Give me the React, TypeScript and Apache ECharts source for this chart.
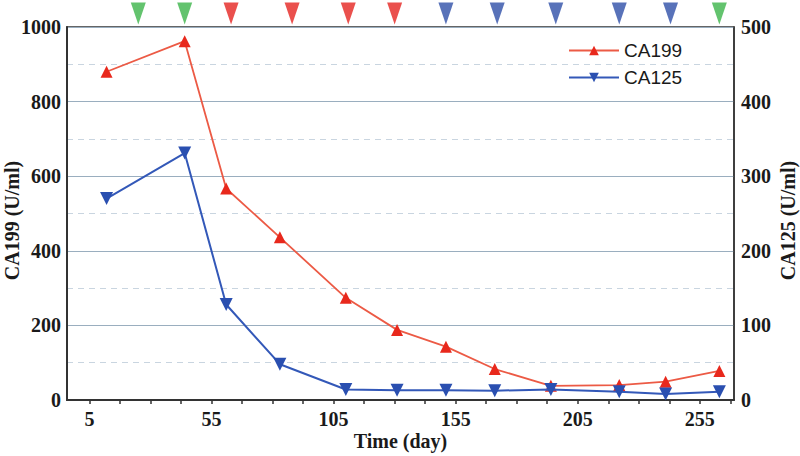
import React, { useEffect, useRef } from "react";
import * as echarts from "echarts";

const days = [12, 44, 61, 83, 110, 131, 151, 171, 194, 222, 241, 263];
const ca199 = [880, 962, 567, 436, 274, 188, 143, 83, 38, 40, 49, 78];
const ca125 = [270, 331, 128, 48, 14, 13, 13, 12.5, 14, 11, 8, 11];

const markerDays = [25, 44, 63, 88, 111, 130, 151, 172, 196, 222, 243, 263];
const markerKinds = ["g", "g", "r", "r", "r", "r", "b", "b", "b", "b", "b", "g"];

const xLabelValues = [5, 55, 105, 155, 205, 255];
const xTickValues = [5, 17.5, 30, 42.5, 55, 67.5, 80, 92.5, 105, 117.5, 130, 142.5, 155, 167.5, 180, 192.5, 205, 217.5, 230, 242.5, 255, 267.5];

const kindColor: Record<string, string> = { g: "#3cb44a", r: "#e52421", b: "#2e4fa8" };

const X_MIN = -4.2;
const X_MAX = 269;

export default function App() {
  const ref = useRef<HTMLDivElement>(null);
  useEffect(() => {
    if (!ref.current) return;
    const chart = echarts.init(ref.current, undefined, { renderer: "svg" });
    const serif = "'Liberation Serif', 'Times New Roman', serif";
    const axisLab = { fontFamily: serif, fontWeight: "bold" as const, fontSize: 20, color: "#1a1a1a" };
    const plain = (v: number) => String(v);
    chart.setOption({
      animation: false,
      backgroundColor: "#ffffff",
      grid: [
        { left: 67, right: 66, top: 27, bottom: 56, show: true, borderColor: "#333", borderWidth: 1.5, backgroundColor: "transparent", outerBoundsMode: "none", containLabel: false },
        { left: 67, right: 66, top: 0, height: 27, show: false, outerBoundsMode: "none", containLabel: false },
      ],
      legend: {
        data: ["CA199", "CA125"],
        orient: "vertical",
        left: 563,
        top: 36,
        itemWidth: 50,
        itemHeight: 12,
        itemGap: 8,
        textStyle: { fontFamily: "'Liberation Sans', Arial, sans-serif", fontSize: 19, color: "#1a1a1a" },
      },
      xAxis: [
        {
          type: "value",
          gridIndex: 0,
          min: X_MIN,
          max: X_MAX,
          name: "Time (day)",
          nameLocation: "middle",
          nameGap: 31,
          nameMoveOverlap: false,
          nameTextStyle: { ...axisLab, fontSize: 20, verticalAlign: "top" },
          axisLine: { onZero: false, lineStyle: { color: "#333", width: 2 } },
          axisTick: { show: true, customValues: xTickValues, length: 4, lineStyle: { color: "#333", width: 1.5 } },
          axisLabel: { ...axisLab, customValues: xLabelValues, margin: 9, formatter: plain },
          splitLine: { show: false },
        },
        { type: "value", gridIndex: 1, min: X_MIN, max: X_MAX, show: false },
      ],
      yAxis: [
        {
          type: "value",
          gridIndex: 0,
          min: 0,
          max: 1000,
          interval: 200,
          name: "CA199 (U/ml)",
          nameLocation: "middle",
          nameGap: 45,
          nameMoveOverlap: false,
          nameTextStyle: { ...axisLab, padding: [0, 14, 0, 0] },
          axisLine: { show: true, onZero: false, lineStyle: { color: "#333", width: 2 } },
          axisTick: { show: false },
          axisLabel: { ...axisLab, margin: 6, formatter: plain },
          splitLine: { show: true, lineStyle: { color: "#9aaebf", width: 1.2 } },
          minorTick: { show: false, splitNumber: 2 },
          minorSplitLine: { show: true, lineStyle: { color: "#c9d5e0", type: [6, 5], width: 1 } },
        },
        {
          type: "value",
          gridIndex: 0,
          position: "right",
          min: 0,
          max: 500,
          interval: 100,
          name: "CA125 (U/ml)",
          nameLocation: "middle",
          nameGap: 44,
          nameMoveOverlap: false,
          nameTextStyle: { ...axisLab, padding: [0, 14, 0, 0] },
          axisLine: { show: true, onZero: false, lineStyle: { color: "#333", width: 1.5 } },
          axisTick: { show: false },
          axisLabel: { ...axisLab, margin: 7, formatter: plain },
          splitLine: { show: false },
        },
        { type: "value", gridIndex: 1, min: 0, max: 1, show: false },
      ],
      series: [
        {
          name: "CA199",
          type: "line",
          xAxisIndex: 0,
          yAxisIndex: 0,
          data: days.map((d, i) => [d, ca199[i]]),
          symbol: "triangle",
          symbolSize: 12,
          lineStyle: { color: "#ec5a45", width: 1.8 },
          itemStyle: { color: "#e8281c" },
          z: 3,
        },
        {
          name: "CA125",
          type: "line",
          xAxisIndex: 0,
          yAxisIndex: 1,
          data: days.map((d, i) => [d, ca125[i]]),
          symbol: "triangle",
          symbolRotate: 180,
          symbolSize: 13,
          lineStyle: { color: "#3358b8", width: 2 },
          itemStyle: { color: "#2a4fb0" },
          z: 4,
        },
        {
          type: "scatter",
          xAxisIndex: 1,
          yAxisIndex: 2,
          symbol: "triangle",
          symbolRotate: 180,
          symbolSize: [15, 22],
          data: markerDays.map((d, i) => ({ value: [d, 0.5], itemStyle: { color: kindColor[markerKinds[i]] } })),
          silent: true,
        },
      ],
    });
    return () => chart.dispose();
  }, []);
  return <div ref={ref} style={{ position: "fixed", left: 0, top: 0, width: 800, height: 456 }} />;
}
